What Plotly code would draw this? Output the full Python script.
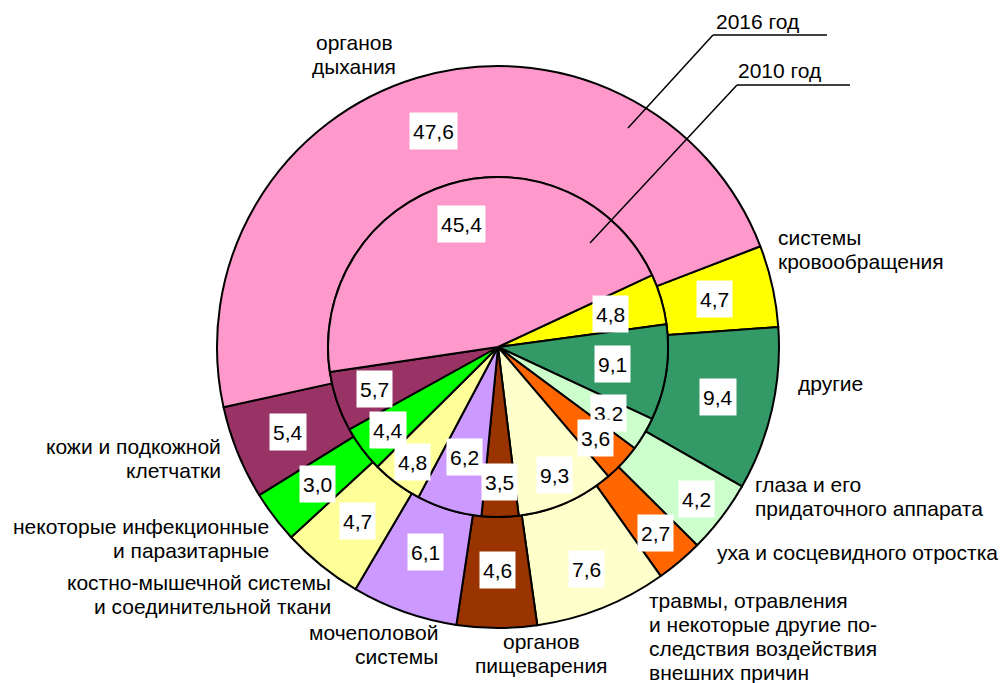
import math
import plotly.graph_objects as go

# ---- data ----
categories = [
    "системы кровообращения", "другие", "глаза и его придаточного аппарата",
    "уха и сосцевидного отростка",
    "травмы, отравления и некоторые другие последствия воздействия внешних причин",
    "органов пищеварения", "мочеполовой системы",
    "костно-мышечной системы и соединительной ткани",
    "некоторые инфекционные и паразитарные", "кожи и подкожной клетчатки",
    "органов дыхания",
]
values_2016 = [4.7, 9.4, 4.2, 2.7, 7.6, 4.6, 6.1, 4.7, 3.0, 5.4, 47.6]
values_2010 = [4.8, 9.1, 3.2, 3.6, 9.3, 3.5, 6.2, 4.8, 4.4, 5.7, 45.4]
colors = ["#FFFF00", "#339966", "#CCFFCC", "#FF6600", "#FFFFCC", "#993300",
          "#CC99FF", "#FFFF99", "#00FF00", "#993366", "#FF99CC"]

# ---- layout geometry (pixels) ----
W, H = 1003, 683
cx, cy = 498, 347
R_out, R_in = 281, 170
rot_out, rot_in = 69, 65
# radial distance (px) of each value label from the centre
label_r_outer = [222, 226, 250, 244, 239, 223, 218, 224, 227, 227, 225]
label_r_inner = [117, 116, 129, 134, 140, 135, 115, 143, 138, 130, 128]
FONT = "Liberation Sans, Arial, sans-serif"
FS = 21


def dom(r):
    return dict(x=[(cx - r) / W, (cx + r) / W], y=[1 - (cy + r) / H, 1 - (cy - r) / H])


fig = go.Figure()
fig.add_trace(go.Pie(
    labels=categories, values=values_2016, sort=False, direction="clockwise",
    rotation=rot_out, hole=R_in / R_out, domain=dom(R_out),
    marker=dict(colors=colors, line=dict(color="black", width=2)),
    textinfo="none", hoverinfo="label+value", showlegend=False,
))
fig.add_trace(go.Pie(
    labels=categories, values=values_2010, sort=False, direction="clockwise",
    rotation=rot_in, domain=dom(R_in),
    marker=dict(colors=colors, line=dict(color="black", width=2)),
    textinfo="none", hoverinfo="label+value", showlegend=False,
))

annotations = []


def value_labels(values, rotation, radii):
    total = sum(values)
    ang = rotation
    for v, radius in zip(values, radii):
        span = v / total * 360
        mid = math.radians(ang + span / 2)
        px = cx + radius * math.sin(mid)
        py = cy - radius * math.cos(mid)
        annotations.append(dict(
            x=px / W, y=1 - py / H, xref="paper", yref="paper",
            xanchor="center", yanchor="middle",
            text=f"{v:.1f}".replace(".", ","), showarrow=False,
            bgcolor="white", borderpad=3, height=30,
            font=dict(family=FONT, size=FS, color="black"),
        ))
        ang += span


value_labels(values_2016, rot_out, label_r_outer)
value_labels(values_2010, rot_in, label_r_inner)

# category labels: (lines, anchor x px, first-line y px, alignment)
LINE = 24
cat_labels = [
    (["органов", "дыхания"], 354, 43, "center"),
    (["системы", "кровообращения"], 776, 238, "left"),
    (["другие"], 796, 383, "left"),
    (["глаза и его", "придаточного аппарата"], 753, 484, "left"),
    (["уха и сосцевидного отростка"], 715, 552, "left"),
    (["травмы, отравления", "и некоторые другие по-", "следствия воздействия",
      "внешних причин"], 647, 600, "left"),
    (["органов", "пищеварения"], 541, 641, "center"),
    (["мочеполовой", "системы"], 440, 632, "right"),
    (["костно-мышечной системы", "и соединительной ткани"], 333, 582, "right"),
    (["некоторые инфекционные", "и паразитарные"], 271, 526, "right"),
    (["кожи и подкожной", "клетчатки"], 223, 446, "right"),
]
for lines, x, y0, al in cat_labels:
    for i, txt in enumerate(lines):
        y = y0 + i * LINE
        annotations.append(dict(
            x=x / W, y=1 - y / H, xref="paper", yref="paper", text=txt,
            showarrow=False, xanchor=al, yanchor="middle", align=al,
            font=dict(family=FONT, size=FS, color="black"),
        ))

# year captions with leader lines
years = [("2016 год", 714, 22, 713, 35, 827, 628, 128),
         ("2010 год", 736, 71, 737, 85, 850, 590, 243)]
shapes = []
for txt, tx, ty, lx0, ly, lx1, ex, ey in years:
    annotations.append(dict(
        x=tx / W, y=1 - ty / H, xref="paper", yref="paper", text=txt,
        showarrow=False, xanchor="left", yanchor="middle",
        font=dict(family=FONT, size=FS, color="black"),
    ))
    shapes.append(dict(type="line", xref="paper", yref="paper",
                       x0=lx0 / W, y0=1 - ly / H, x1=lx1 / W, y1=1 - ly / H,
                       line=dict(color="black", width=1.5)))
    shapes.append(dict(type="line", xref="paper", yref="paper",
                       x0=lx0 / W, y0=1 - ly / H, x1=ex / W, y1=1 - ey / H,
                       line=dict(color="black", width=1.5)))

fig.update_layout(
    width=W, height=H, margin=dict(l=0, r=0, t=0, b=0),
    paper_bgcolor="white", plot_bgcolor="white",
    annotations=annotations, shapes=shapes,
)
fig.write_html(
    "out.html",
    config={"displayModeBar": False},
    post_script="document.body.style.margin='0';document.body.style.overflow='hidden';",
)
